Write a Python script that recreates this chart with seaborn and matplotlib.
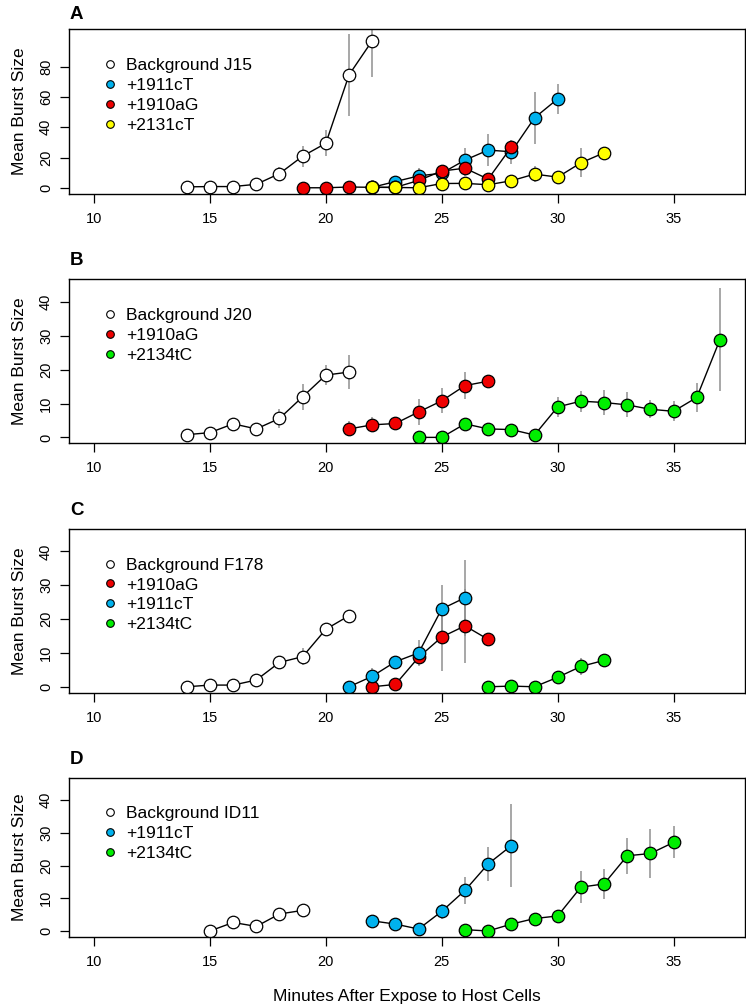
import matplotlib
matplotlib.use("Agg")
import matplotlib.pyplot as plt
import seaborn as sns
import pandas as pd
from matplotlib.lines import Line2D

# ---------------- data ----------------
# Panel A
a_bg_x = [14, 15, 16, 17, 18, 19, 20, 21, 22]
a_bg_y = [0.8, 1.0, 1.0, 2.5, 9.5, 21.0, 29.5, 74.5, 97.0]
a_bg_e = [0.3, 0.3, 0.3, 1.0, 4.5, 7.0, 8.7, 27.0, 24.0]
a_1911_x = [22, 23, 24, 25, 26, 27, 28, 29, 30]
a_1911_y = [0.5, 4.3, 8.0, 9.8, 18.4, 25.0, 23.9, 46.2, 58.7]
a_1911_e = [0.3, 1.0, 5.0, 5.5, 8.0, 10.7, 7.8, 17.3, 9.8]
a_1910_x = [19, 20, 21, 22, 23, 24, 25, 26, 27, 28]
a_1910_y = [0.2, 0.2, 0.7, 0.5, 0.5, 5.0, 11.2, 13.1, 5.9, 27.0]
a_1910_e = [0.3, 0.3, 1.0, 0.3, 0.3, 3.0, 3.5, 5.0, 2.0, 3.0]
a_2131_x = [22, 23, 24, 25, 26, 27, 28, 29, 30, 31, 32]
a_2131_y = [0.5, 0.4, 0.2, 3.0, 3.1, 2.2, 4.8, 9.2, 7.2, 16.6, 23.2]
a_2131_e = [0.3, 0.3, 0.3, 1.0, 1.0, 1.0, 1.0, 5.0, 1.0, 9.5, 1.0]

# Panel B
b_bg_x = [14, 15, 16, 17, 18, 19, 20, 21]
b_bg_y = [0.8, 1.4, 4.0, 2.5, 5.6, 12.0, 18.4, 19.3]
b_bg_e = [0.3, 0.5, 1.7, 0.8, 2.8, 3.9, 3.0, 5.0]
b_1910_x = [21, 22, 23, 24, 25, 26, 27]
b_1910_y = [2.5, 3.7, 4.1, 7.5, 10.8, 15.3, 16.6]
b_1910_e = [2.2, 2.2, 1.9, 3.9, 3.7, 4.0, 1.3]
b_2134_x = [24, 25, 26, 27, 28, 29, 30, 31, 32, 33, 34, 35, 36, 37]
b_2134_y = [0.0, 0.0, 4.0, 2.5, 2.3, 0.7, 9.0, 10.7, 10.3, 9.6, 8.3, 7.7, 11.8, 28.9]
b_2134_e = [0.3, 0.3, 1.3, 0.6, 1.0, 0.5, 3.0, 3.1, 3.7, 3.7, 2.7, 3.0, 4.2, 15.1]

# Panel C
c_bg_x = [14, 15, 16, 17, 18, 19, 20, 21]
c_bg_y = [0.0, 0.5, 0.5, 2.0, 7.2, 8.9, 17.0, 21.0]
c_bg_e = [0.2, 0.3, 0.3, 0.5, 2.0, 2.6, 0.6, 0.6]
c_1910_x = [22, 23, 24, 25, 26, 27]
c_1910_y = [0.0, 0.7, 8.7, 14.7, 18.0, 14.0]
c_1910_e = [0.3, 0.4, 1.0, 10.0, 11.0, 0.5]
c_1911_x = [21, 22, 23, 24, 25, 26]
c_1911_y = [0.0, 3.1, 7.4, 10.0, 23.0, 26.3]
c_1911_e = [0.2, 2.5, 1.0, 3.9, 7.0, 11.3]
c_2134_x = [27, 28, 29, 30, 31, 32]
c_2134_y = [0.0, 0.2, 0.0, 2.8, 6.0, 7.8]
c_2134_e = [0.2, 0.2, 0.2, 1.0, 2.6, 2.0]

# Panel D
d_bg_x = [15, 16, 17, 18, 19]
d_bg_y = [0.0, 2.6, 1.4, 5.2, 6.3]
d_bg_e = [0.3, 1.5, 0.6, 1.5, 0.5]
d_1911_x = [22, 23, 24, 25, 26, 27, 28]
d_1911_y = [3.1, 2.1, 0.6, 6.0, 12.4, 20.5, 26.1]
d_1911_e = [0.5, 0.5, 0.5, 2.2, 4.0, 5.1, 12.7]
d_2134_x = [26, 27, 28, 29, 30, 31, 32, 33, 34, 35]
d_2134_y = [0.4, 0.0, 2.1, 3.8, 4.6, 13.4, 14.4, 23.0, 23.7, 27.1]
d_2134_e = [0.3, 0.3, 1.0, 1.3, 0.5, 4.8, 4.6, 5.5, 7.5, 4.9]

x_ticks = [10, 15, 20, 25, 30, 35]
a_yticks = [0, 20, 40, 60, 80]
bcd_yticks = [0, 10, 20, 30, 40]

WHITE, BLUE, RED, YELLOW, GREEN = "#FFFFFF", "#00B2EE", "#EE0000", "#FFFF00", "#00EE00"

panels = [
    ("A", [("Background J15", a_bg_x, a_bg_y, a_bg_e, WHITE),
           ("+1911cT", a_1911_x, a_1911_y, a_1911_e, BLUE),
           ("+1910aG", a_1910_x, a_1910_y, a_1910_e, RED),
           ("+2131cT", a_2131_x, a_2131_y, a_2131_e, YELLOW)],
     a_yticks, (-3.9, 104.5)),
    ("B", [("Background J20", b_bg_x, b_bg_y, b_bg_e, WHITE),
           ("+1910aG", b_1910_x, b_1910_y, b_1910_e, RED),
           ("+2134tC", b_2134_x, b_2134_y, b_2134_e, GREEN)],
     bcd_yticks, (-1.75, 46.7)),
    ("C", [("Background F178", c_bg_x, c_bg_y, c_bg_e, WHITE),
           ("+1910aG", c_1910_x, c_1910_y, c_1910_e, RED),
           ("+1911cT", c_1911_x, c_1911_y, c_1911_e, BLUE),
           ("+2134tC", c_2134_x, c_2134_y, c_2134_e, GREEN)],
     bcd_yticks, (-1.75, 46.7)),
    ("D", [("Background ID11", d_bg_x, d_bg_y, d_bg_e, WHITE),
           ("+1911cT", d_1911_x, d_1911_y, d_1911_e, BLUE),
           ("+2134tC", d_2134_x, d_2134_y, d_2134_e, GREEN)],
     bcd_yticks, (-1.75, 46.7)),
]

# ---------------- style ----------------
sns.set_style("white")
plt.rcParams["font.family"] = ["Liberation Sans", "DejaVu Sans"]
plt.rcParams["text.color"] = "black"
plt.rcParams["axes.labelcolor"] = "black"
plt.rcParams["xtick.color"] = "black"
plt.rcParams["ytick.color"] = "black"

W, H = 746, 1007
fig = plt.figure(figsize=(W / 100, H / 100), dpi=100)

# axes boxes in pixels: (top, bottom)
boxes = [(29.3, 194.0), (279.3, 443.3), (528.7, 692.7), (778.3, 936.7)]
letter_gap = [6.5, 10, 10, 10]
left_px, right_px = 69, 745

for (letter, series, yticks, ylim), (top, bot), gap in zip(panels, boxes, letter_gap):
    ax = fig.add_axes([left_px / W, 1 - bot / H, (right_px - left_px) / W, (bot - top) / H])
    for name, xs, ys, es, col in series:
        df = pd.DataFrame({"x": xs, "y": ys, "e": es})
        ax.vlines(df["x"], df["y"] - df["e"], df["y"] + df["e"], color="#8f8f8f", lw=1.1, zorder=1)
        sns.lineplot(data=df, x="x", y="y", ax=ax, color="black", lw=1.0,
                     marker="o", markersize=9, markerfacecolor=col,
                     markeredgecolor="black", markeredgewidth=0.9,
                     estimator=None, sort=False, zorder=2)
    handles = [Line2D([], [], ls="none", marker="o", markersize=5.5, markerfacecolor=s[4],
                      markeredgecolor="black", markeredgewidth=0.8) for s in series]
    ax.legend(handles, [s[0] for s in series], loc="upper left",
              bbox_to_anchor=(0.0507, 0.824), frameon=False, fontsize=12.5,
              handlelength=0.8, handletextpad=0.5, labelspacing=0.27,
              borderpad=0, borderaxespad=0)
    ax.set_xlim(8.92, 38.08)
    ax.set_ylim(*ylim)
    ax.set_xticks(x_ticks)
    ax.set_yticks(yticks)
    ax.tick_params(axis="both", direction="out", length=6.5, width=0.9, color="black",
                   labelsize=10.5, labelcolor="black", bottom=True, left=True)
    ax.tick_params(axis="x", pad=6.5)
    ax.tick_params(axis="y", pad=5)
    for lab in ax.get_yticklabels():
        lab.set_rotation(90)
        lab.set_va("center")
    for sp in ax.spines.values():
        sp.set_visible(True)
        sp.set_color("black")
        sp.set_linewidth(1.0)
    ax.set_ylabel("Mean Burst Size", fontsize=12.5, color="black")
    ax.yaxis.set_label_coords(-0.062, 0.5)
    if letter == "D":
        ax.set_xlabel("Minutes After Expose to Host Cells", fontsize=12.5, color="black")
        ax.xaxis.set_label_coords(0.5, -0.33)
    else:
        ax.set_xlabel("")
    ax.text(0.0015, 1.0 + gap / (bot - top), letter, transform=ax.transAxes,
            fontsize=13.5, fontweight="bold", ha="left", va="bottom", color="black")

fig.savefig("out.png", dpi=100)
